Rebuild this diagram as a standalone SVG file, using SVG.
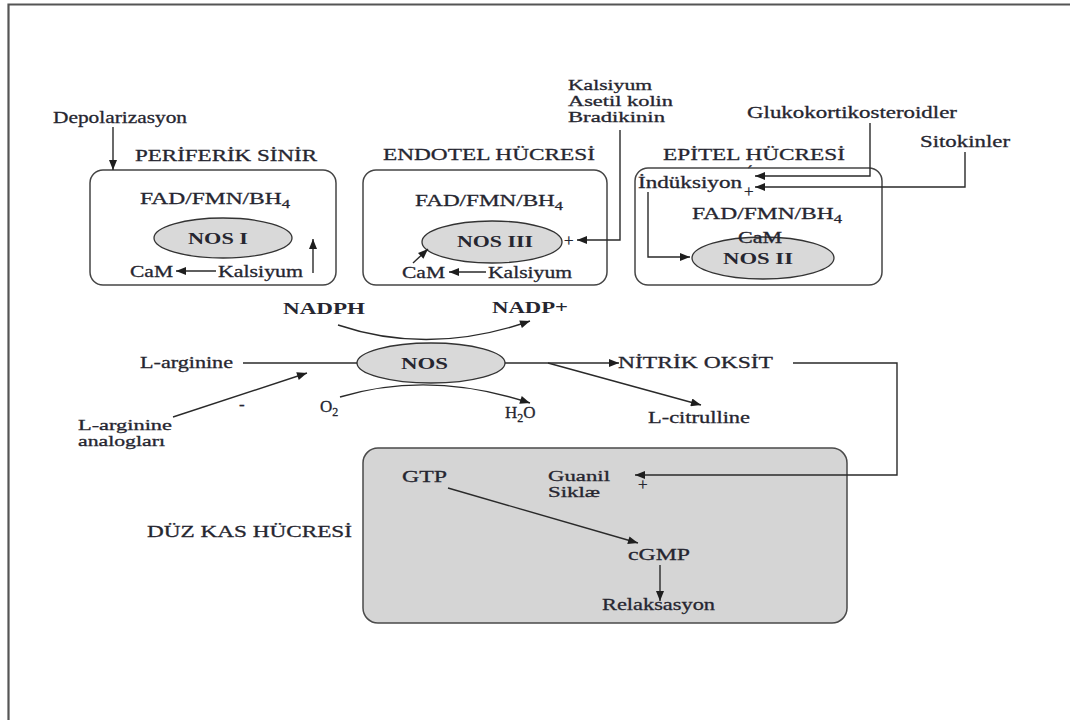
<svg xmlns="http://www.w3.org/2000/svg" width="1070" height="720" viewBox="0 0 1070 720">
<style>
.t{font-family:"Liberation Serif","Times New Roman",serif;font-size:17px;fill:#262630;stroke:#262630;stroke-width:0.3px}
.s{font-size:15px}
.b{font-weight:bold;stroke-width:0}
.cell{fill:#ffffff;stroke:#454545;stroke-width:1.5}
.ell{fill:#d9d9d9;stroke:#333333;stroke-width:1.3}
.ln{fill:none;stroke:#2a2a2a;stroke-width:1.4}
.arr{fill:none;stroke:#2a2a2a;stroke-width:1.4;marker-end:url(#ah)}
</style>
<defs>
<marker id="ah" viewBox="0 0 10 8" refX="10" refY="4" markerWidth="11" markerHeight="8" markerUnits="userSpaceOnUse" orient="auto">
<path d="M0,0 L10,4 L0,8 Z" fill="#1e1e1e"/>
</marker>
</defs>
<rect width="1070" height="720" fill="#ffffff"/>
<path d="M8.5,720 V4.5 H1070" fill="none" stroke="#555555" stroke-width="2.2"/>

<g id="periferik-sinir">
<rect class="cell" x="90" y="170" width="246" height="115" rx="13"/>
<text class="t" x="135" y="161" textLength="182" lengthAdjust="spacingAndGlyphs">PERİFERİK SİNİR</text>
<text class="t" x="140" y="204" textLength="150" lengthAdjust="spacingAndGlyphs">FAD/FMN/BH<tspan dy="4" font-size="12">4</tspan></text>
<ellipse class="ell" cx="223" cy="238" rx="69" ry="20"/>
<text class="t b" x="188" y="244" textLength="60" lengthAdjust="spacingAndGlyphs">NOS I</text>
<text class="t" x="130" y="277" textLength="43" lengthAdjust="spacingAndGlyphs">CaM</text>
<text class="t" x="218" y="277" textLength="85" lengthAdjust="spacingAndGlyphs">Kalsiyum</text>
</g>

<g id="endotel-hucresi">
<rect class="cell" x="363" y="170" width="244" height="115" rx="13"/>
<text class="t" x="383" y="160" textLength="212" lengthAdjust="spacingAndGlyphs">ENDOTEL HÜCRESİ</text>
<text class="t" x="415" y="206" textLength="148" lengthAdjust="spacingAndGlyphs">FAD/FMN/BH<tspan dy="4" font-size="12">4</tspan></text>
<ellipse class="ell" cx="492" cy="242" rx="70" ry="21"/>
<text class="t b" x="457" y="247" textLength="76" lengthAdjust="spacingAndGlyphs">NOS III</text>
<text class="t" x="564" y="246" font-size="14">+</text>
<text class="t" x="402" y="278" textLength="43" lengthAdjust="spacingAndGlyphs">CaM</text>
<text class="t" x="488" y="278" textLength="84" lengthAdjust="spacingAndGlyphs">Kalsiyum</text>
</g>

<g id="epitel-hucresi">
<rect class="cell" x="635" y="168" width="247" height="117" rx="13"/>
<text class="t" x="663" y="160" textLength="182" lengthAdjust="spacingAndGlyphs">EPİTEL HÜCRESİ</text>
<text class="t" x="638" y="188" textLength="104" lengthAdjust="spacingAndGlyphs">İndüksiyon</text>
<text class="t" x="747" y="177" font-size="10">´</text>
<text class="t" x="744" y="197" font-size="14">+</text>
<text class="t" x="692" y="219" textLength="150" lengthAdjust="spacingAndGlyphs">FAD/FMN/BH<tspan dy="4" font-size="12">4</tspan></text>
<ellipse class="ell" cx="763" cy="258" rx="71" ry="21"/>
<text class="t" x="738" y="243" textLength="44" lengthAdjust="spacingAndGlyphs">CaM</text>
<text class="t b" x="723" y="264" textLength="70" lengthAdjust="spacingAndGlyphs">NOS II</text>
</g>

<g id="stimuli">
<text class="t" x="53" y="123" textLength="134" lengthAdjust="spacingAndGlyphs">Depolarizasyon</text>
<text class="t s" x="568" y="90" textLength="84" lengthAdjust="spacingAndGlyphs">Kalsiyum</text>
<text class="t s" x="568" y="106" textLength="105" lengthAdjust="spacingAndGlyphs">Asetil kolin</text>
<text class="t s" x="568" y="122" textLength="97" lengthAdjust="spacingAndGlyphs">Bradikinin</text>
<text class="t" x="747" y="118" textLength="210" lengthAdjust="spacingAndGlyphs">Glukokortikosteroidler</text>
<text class="t" x="920" y="147" textLength="90" lengthAdjust="spacingAndGlyphs">Sitokinler</text>
</g>

<g id="nos-reaction">
<ellipse class="ell" cx="431" cy="363" rx="74" ry="20"/>
<text class="t b" x="401" y="369" textLength="47" lengthAdjust="spacingAndGlyphs">NOS</text>
<text class="t b" x="283" y="314" textLength="82" lengthAdjust="spacingAndGlyphs">NADPH</text>
<text class="t b" x="492" y="313" textLength="76" lengthAdjust="spacingAndGlyphs">NADP+</text>
<text class="t" x="140" y="368" textLength="93" lengthAdjust="spacingAndGlyphs">L-arginine</text>
<text class="t s" x="78" y="430" textLength="94" lengthAdjust="spacingAndGlyphs">L-arginine</text>
<text class="t s" x="78" y="446" textLength="87" lengthAdjust="spacingAndGlyphs">analogları</text>
<text class="t" x="239" y="410" font-size="12">-</text>
<text class="t" x="320" y="412">O<tspan dy="4" font-size="12">2</tspan></text>
<text class="t" x="505" y="418">H<tspan dy="4" font-size="12">2</tspan><tspan dy="-4">O</tspan></text>
<text class="t" x="618" y="368" textLength="155" lengthAdjust="spacingAndGlyphs">NİTRİK OKSİT</text>
<text class="t" x="648" y="423" textLength="102" lengthAdjust="spacingAndGlyphs">L-citrulline</text>
</g>

<g id="duz-kas-hucresi">
<rect x="363" y="448" width="484" height="175" rx="15" fill="#d5d5d5" stroke="#4a4a4a" stroke-width="1.5"/>
<text class="t" x="147" y="537" textLength="205" lengthAdjust="spacingAndGlyphs">DÜZ KAS HÜCRESİ</text>
<text class="t" x="402" y="482" textLength="45" lengthAdjust="spacingAndGlyphs">GTP</text>
<text class="t s" x="548" y="481" textLength="62" lengthAdjust="spacingAndGlyphs">Guanil</text>
<text class="t s" x="548" y="497" textLength="52" lengthAdjust="spacingAndGlyphs">Siklæ</text>
<text class="t" x="638" y="490" font-size="14">+</text>
<text class="t" x="628" y="560" textLength="62" lengthAdjust="spacingAndGlyphs">cGMP</text>
<text class="t" x="602" y="610" textLength="113" lengthAdjust="spacingAndGlyphs">Relaksasyon</text>
</g>

<g id="connectors">
<path class="arr" d="M113,127 V170"/>
<path class="arr" d="M216,271 H176"/>
<path class="arr" d="M313,273 V239"/>
<path class="arr" d="M620,130 V240 H577"/>
<path class="arr" d="M486,272 H449"/>
<path class="arr" d="M413,263 L428,249"/>
<path class="arr" d="M870,123 V176 H755"/>
<path class="arr" d="M965,152 V187 H755"/>
<path class="arr" d="M648,192 V257 H690"/>
<path class="arr" d="M338,325 Q430,356 530,321"/>
<path class="arr" d="M340,397 Q430,370 530,403"/>
<path class="ln" d="M243,363 H357"/>
<path class="arr" d="M173,417 L307,373"/>
<path class="arr" d="M505,363 H619"/>
<path class="arr" d="M548,363 L701,405"/>
<path class="arr" d="M793,363 H897 V475 H635"/>
<path class="arr" d="M448,488 L638,543"/>
<path class="arr" d="M660,565 V601"/>
</g>
</svg>
